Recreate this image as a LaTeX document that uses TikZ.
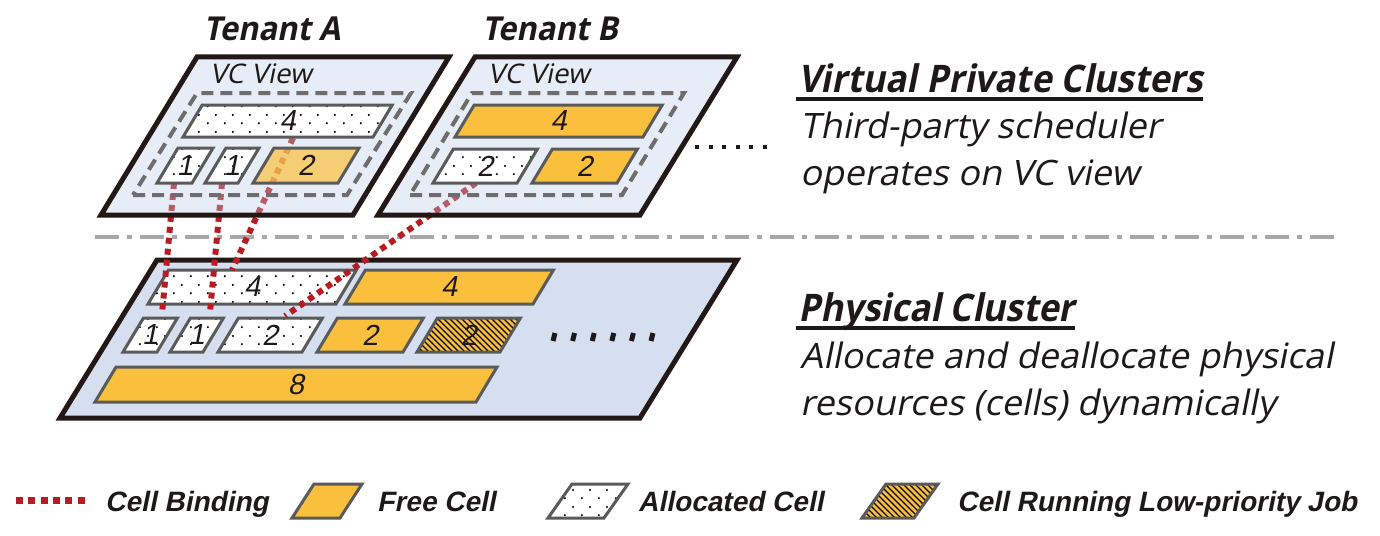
\documentclass[tikz,border=0pt]{standalone}
\usepackage{fontspec}
\setmainfont{Open Sans}
\newfontfamily\slfont[FakeSlant=0.2,FakeStretch=1.03]{Open Sans}
\newfontfamily\headfont[FakeSlant=0.2,FakeStretch=0.92]{Open Sans}
\newfontfamily\tenfont[FakeSlant=0.2,FakeStretch=0.94]{Open Sans}
\newfontfamily\legfont[FakeSlant=0.2,FakeStretch=1.0]{Liberation Sans}
\newfontfamily\numfont[FakeSlant=0.2]{Liberation Sans}
\usetikzlibrary{patterns,calc}

\definecolor{cellorange}{RGB}{250,192,61}
\definecolor{cellgray}{RGB}{90,90,90}
\definecolor{vcfillx}{RGB}{189,206,232}
\definecolor{physfill}{RGB}{214,223,240}
\definecolor{planeline}{RGB}{35,24,21}
\definecolor{dashgray}{RGB}{110,108,108}
\definecolor{sepgray}{RGB}{168,166,167}
\definecolor{bindred}{RGB}{184,28,35}
\definecolor{txt}{RGB}{30,25,25}

\pgfdeclarepatternformonly{sdots}{\pgfqpoint{0pt}{0pt}}{\pgfqpoint{17pt}{17pt}}{\pgfqpoint{17pt}{17pt}}{%
  \pgfpathcircle{\pgfqpoint{4pt}{4pt}}{1.2pt}%
  \pgfpathcircle{\pgfqpoint{12.5pt}{12.5pt}}{1.2pt}%
  \pgfusepath{fill}}
\pgfdeclarepatternformonly{hatchnw}{\pgfqpoint{-1pt}{-1pt}}{\pgfqpoint{7pt}{7pt}}{\pgfqpoint{6pt}{6pt}}{%
  \pgfsetlinewidth{1.2pt}%
  \pgfpathmoveto{\pgfqpoint{0pt}{6pt}}\pgfpathlineto{\pgfqpoint{6.1pt}{-0.1pt}}\pgfusepath{stroke}}

\newcommand\para[6]{\path[#1] (#2,#3) -- ++(#4,0) -- ++(#6,-#5) -- ++(-#4,0) -- cycle;}
\newcommand\pcell[7]{\para{#2}{#3}{#4}{#5}{#6}{0.6*#6}%
  \node[numlab] (#1) at ({#3+#5/2+0.3*#6},{#4-#6/2}) {#7};}

\tikzset{
  plane/.style={draw=planeline, line width=5pt, line join=miter},
  physplane/.style={plane, fill=physfill},
  vcplane/.style={plane, fill=vcfillx, fill opacity=0.35},
  cellline/.style={draw=cellgray, line width=3pt, line join=miter},
  free/.style={cellline, fill=cellorange},
  freet/.style={cellline, fill=cellorange, fill opacity=0.7},
  alloc/.style={cellline, preaction={fill=white}, pattern=sdots, pattern color=black},
  low/.style={cellline, preaction={fill=cellorange}, pattern=hatchnw, pattern color=black},
  vcdash/.style={draw=dashgray, line width=4pt, dash pattern=on 12pt off 7pt},
  bind/.style={draw=bindred, line width=6pt, dash pattern=on 6pt off 5pt},
  bindleg/.style={draw=bindred, line width=7pt, dash pattern=on 7pt off 5.3pt},
  sepline/.style={draw=sepgray, line width=4pt, dash pattern=on 24pt off 8pt on 5pt off 8pt},
  numlab/.style={font=\numfont\fontsize{29}{32}\selectfont, text=txt, inner sep=0pt},
  tenant/.style={font=\tenfont\bfseries\fontsize{33}{38}\selectfont, text=txt, inner sep=0pt, anchor=base},
  vcview/.style={font=\slfont\fontsize{27}{30}\selectfont, text=txt, inner sep=0pt, anchor=base west},
  head/.style={font=\headfont\bfseries\fontsize{38}{44}\selectfont, text=txt, inner sep=0pt, anchor=base west},
  body/.style={font=\slfont\fontsize{35}{40}\selectfont, text=txt, inner sep=0pt, anchor=base west},
  leg/.style={font=\legfont\bfseries\fontsize{28}{32}\selectfont, text=txt, inner sep=0pt, anchor=base west},
  hline/.style={draw=txt, line width=3.5pt},
  dotmark/.style={draw=txt, line width=4pt},
  pdotmark/.style={draw=txt, line width=5pt}
}

\begin{document}
\begin{tikzpicture}[x=1pt,y=-1pt]
\useasboundingbox[fill=white] (0,0) rectangle (1380,535);

% ---------- physical cluster ----------
\para{physplane}{60}{418}{580}{158}{97}
\pcell{p4a}{alloc}{148}{304}{188}{34}{4}
\pcell{p4b}{free}{345}{304}{188}{34}{4}
\pcell{p1a}{alloc}{123}{352}{34}{34}{1}
\pcell{p1b}{alloc}{170}{352}{33}{34}{1}
\pcell{p2a}{alloc}{218}{352}{84}{34}{2}
\pcell{p2b}{free}{317}{352}{86}{34}{2}
\pcell{p2c}{low}{417}{352}{83}{34}{2}
\pcell{p8}{free}{95}{402}{381}{35}{8}
\foreach \i in {0,...,5} \draw[pdotmark] ({553+19.6*\i},341) -- ++(2,-8);

% ---------- separator ----------
\coordinate (sepL) at (95,237);
\coordinate (sepR) at (1336,237);
\draw[sepline] (sepL) -- (sepR);

% ---------- cell bindings ----------
\coordinate (s1) at (174,183);  \coordinate (e1) at (162,314);
\coordinate (s2) at (222,183);  \coordinate (e2) at (210,312);
\coordinate (s3) at (293,138);  \coordinate (e3) at (232,270);
\coordinate (s4) at (476,183);  \coordinate (e4) at (285,316);
\draw[bind] (s1) -- (e1);
\draw[bind] (s2) -- (e2);
\draw[bind] (s3) -- (e3);
\draw[bind] (s4) -- (e4);

% ---------- tenant A ----------
\para{vcplane}{101}{215}{252}{158}{96}
\para{vcdash}{133}{195}{214}{102}{64}
\pcell{a4}{alloc}{183}{137}{190}{32}{4}
\pcell{a1a}{alloc}{157}{183}{35}{35}{1}
\pcell{a1b}{alloc}{205}{183}{33}{35}{1}
\pcell{a2}{freet}{253}{183}{85}{35}{2}
\node[vcview] (vcA) at (210,83) {VC View};
\node[tenant] (tA) at (272,41) {Tenant A};

% ---------- tenant B ----------
\para{vcplane}{378}{215}{262}{158}{97}
\para{vcdash}{410}{195}{212}{102}{62}
\pcell{b4}{free}{455}{137}{188}{32}{4}
\pcell{b2a}{alloc}{433}{183}{84}{34}{2}
\pcell{b2b}{free}{532}{183}{85}{34}{2}
\node[vcview] (vcB) at (488,83) {VC View};
\node[tenant] (tB) at (550,41) {Tenant B};
\foreach \i in {0,...,5} \draw[dotmark] ({695+13.6*\i},147) -- ++(4,0);

% ---------- right-hand texts ----------
\node[head] (h1) at (798,92) {Virtual Private Clusters};
\draw[hline] ($(h1.base west)+(-2,7)$) -- ($(h1.base east)+(0,7)$);
\node[body] (d1a) at (800,138) {Third-party scheduler};
\node[body] (d1b) at (800,185) {operates on VC view};

\node[head] (h2) at (798,321) {Physical Cluster};
\draw[hline] ($(h2.base west)+(-2,7)$) -- ($(h2.base east)+(0,7)$);
\node[body] (d2a) at (800,368) {Allocate and deallocate physical};
\node[body] (d2b) at (800,415) {resources (cells) dynamically};

% ---------- legend ----------
\coordinate (lbA) at (16,500);
\coordinate (lbB) at (85,500);
\draw[bindleg] (lbA) -- (lbB);
\node[leg] (lt1) at (105,511) {Cell Binding};
\para{free}{292}{518}{48}{34}{22}
\node[leg] (lt2) at (377,511) {Free Cell};
\para{alloc}{548}{518}{56}{34}{24}
\node[leg] (lt3) at (638,511) {Allocated Cell};
\para{low}{862}{518}{52}{34}{24}
\node[leg] (lt4) at (957,511) {Cell Running Low-priority Job};
\end{tikzpicture}
\end{document}
